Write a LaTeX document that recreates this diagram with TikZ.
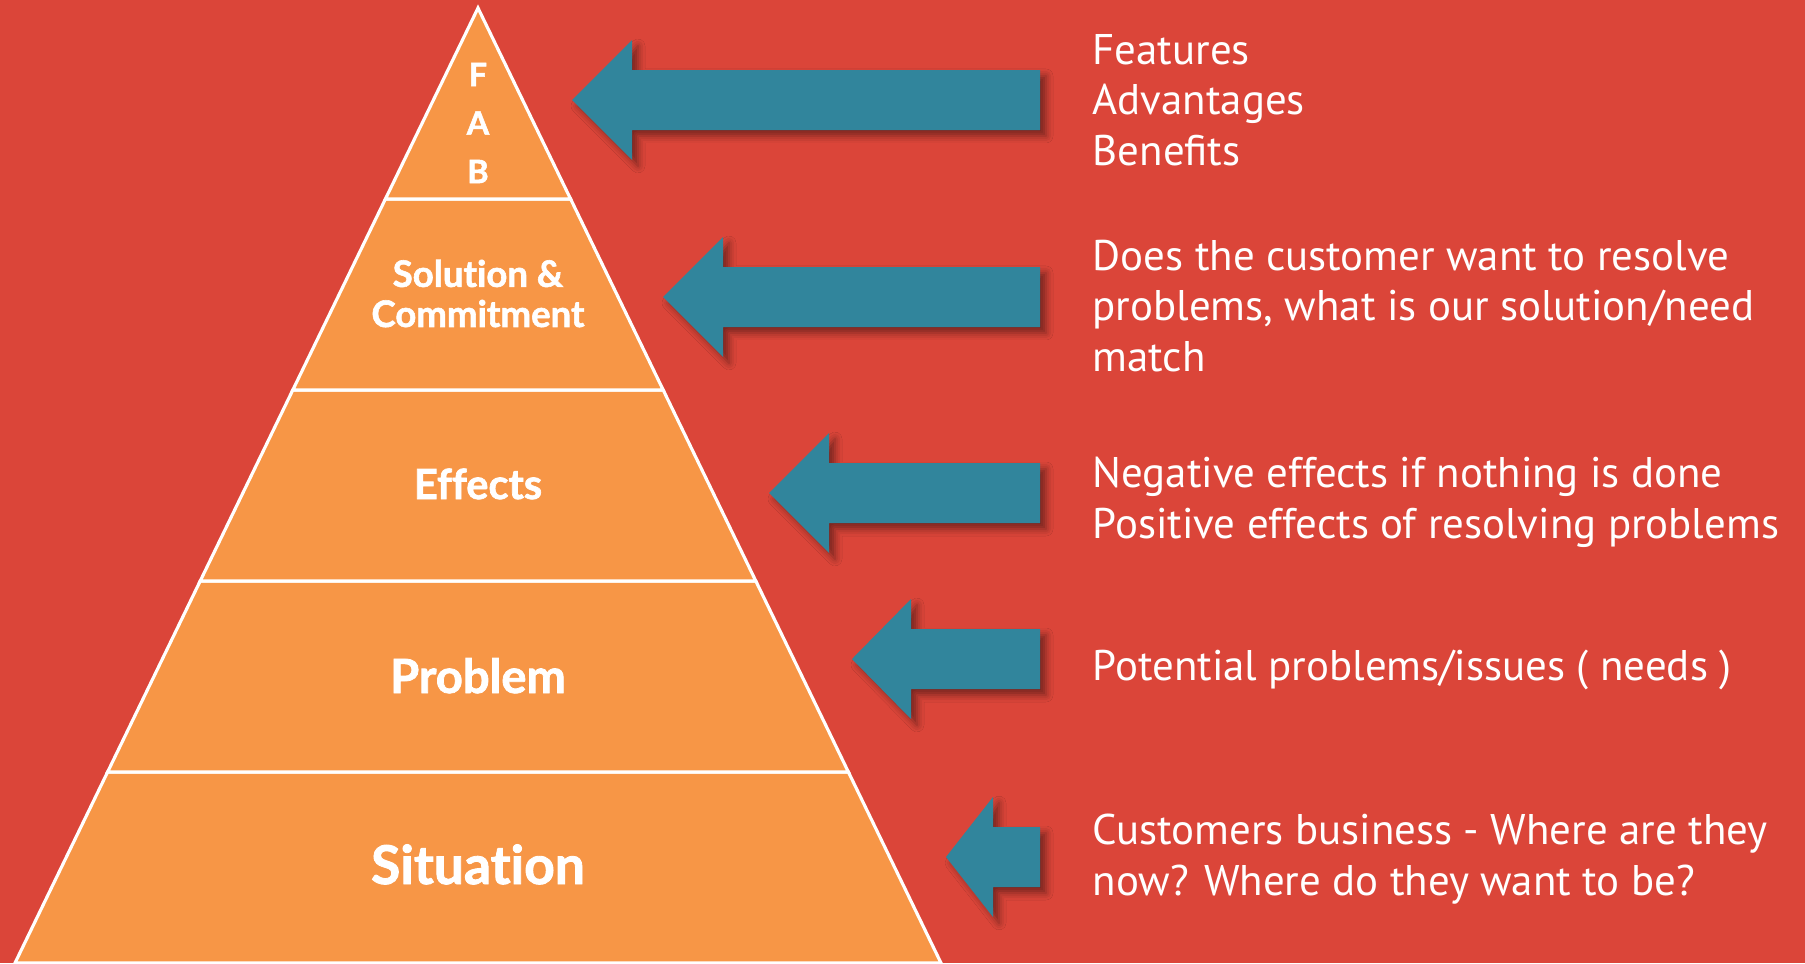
\documentclass[tikz,border=0pt]{standalone}
\usepackage{fontspec}
\setmainfont{PT Sans}
\newfontfamily\tierfont{Lato}[Ligatures=NoCommon, BoldFeatures={FakeBold=1.6}]
\usepackage{tikz}
\usepackage{xcolor}
\usetikzlibrary{positioning, shadows.blur}

\definecolor{bgred}{HTML}{DB4539}
\definecolor{tierorange}{HTML}{F79646}
\definecolor{pointerteal}{HTML}{31859C}

\begin{document}
\begin{tikzpicture}[
    tier/.style={fill=tierorange, draw=white, line width=0.9pt, line join=miter},
    tiertxt/.style={text=white, font=\tierfont\bfseries, align=center, inner sep=0pt},
    pointer/.style={fill=pointerteal, blur shadow={shadow xshift=0.06cm, shadow yshift=-0.06cm, shadow blur radius=0.07cm, shadow opacity=45}},
    note/.style={text=white, align=left, anchor=base west, inner sep=0pt, font=\fontsize{12.2}{14.3}\selectfont},
]

% background
\fill[bgred] (0,0) rectangle (18.05,9.63);
\useasboundingbox (0,0) rectangle (18.05,9.63);

% pyramid, bottom tier first
\draw[tier] (0.15,0)    -- (9.41,0)    -- (8.484,1.91) -- (1.076,1.91) -- cycle;
\draw[tier] (1.076,1.91) -- (8.484,1.91) -- (7.558,3.82) -- (2.002,3.82) -- cycle;
\draw[tier] (2.002,3.82) -- (7.558,3.82) -- (6.632,5.73) -- (2.928,5.73) -- cycle;
\draw[tier] (2.928,5.73) -- (6.632,5.73) -- (5.706,7.64) -- (3.854,7.64) -- cycle;
\draw[tier] (3.854,7.64) -- (5.706,7.64) -- (4.78,9.55) -- cycle;

\node[tiertxt, anchor=base, font=\tierfont\bfseries\fontsize{15.2}{18}\selectfont] (sit) at (4.78,0.79) {Situation};
\node[tiertxt, anchor=base, font=\tierfont\bfseries\fontsize{13.4}{16}\selectfont] (prob) at (4.78,2.70) {Problem};
\node[tiertxt, anchor=base, font=\tierfont\bfseries\fontsize{11.8}{14}\selectfont] (eff) at (4.78,4.64) {Effects};
\node[tiertxt, font=\tierfont\bfseries\fontsize{10.4}{11.4}\selectfont] (sol) at (4.78,6.695) {Solution \&\\Commitment};
\node[tiertxt, font=\tierfont\bfseries\fontsize{9.2}{13.8}\selectfont] (fab) at (4.78,8.40) {F\\A\\B};

% block arrows
\fill[pointer] (5.72,8.63) -- ++(0.6,0.6) -- ++(0,-0.3) -- (10.40,8.93) -- ++(0,-0.6) -- (6.32,8.33) -- ++(0,-0.3) -- cycle;
\fill[pointer] (6.63,6.66) -- ++(0.6,0.6) -- ++(0,-0.3) -- (10.40,6.96) -- ++(0,-0.6) -- (7.23,6.36) -- ++(0,-0.3) -- cycle;
\fill[pointer] (7.69,4.70) -- ++(0.6,0.6) -- ++(0,-0.3) -- (10.40,5.00) -- ++(0,-0.6) -- (8.29,4.40) -- ++(0,-0.3) -- cycle;
\fill[pointer] (8.52,3.04) -- ++(0.59,0.6) -- ++(0,-0.3) -- (10.40,3.34) -- ++(0,-0.6) -- (9.11,2.74) -- ++(0,-0.3) -- cycle;
\fill[pointer] (9.46,1.06) -- ++(0.47,0.6) -- ++(0,-0.3) -- (10.40,1.36) -- ++(0,-0.6) -- (9.93,0.76) -- ++(0,-0.3) -- cycle;

% notes on the right (anchored at the last line)
\node[note] (nfab) at (10.92,7.98) {Features\\Advantages\\Benefits};
\node[note] (nsol) at (10.92,5.92) {Does the customer want to resolve\\problems, what is our solution/need\\match};
\node[note] (neff) at (10.92,4.25) {Negative effects if nothing is done\\Positive effects of resolving problems};
\node[note] (nprob) at (10.92,2.83) {Potential problems/issues ( needs )};
\node[note] (nsit) at (10.92,0.68) {Customers business - Where are they\\now? Where do they want to be?};

\end{tikzpicture}
\end{document}
